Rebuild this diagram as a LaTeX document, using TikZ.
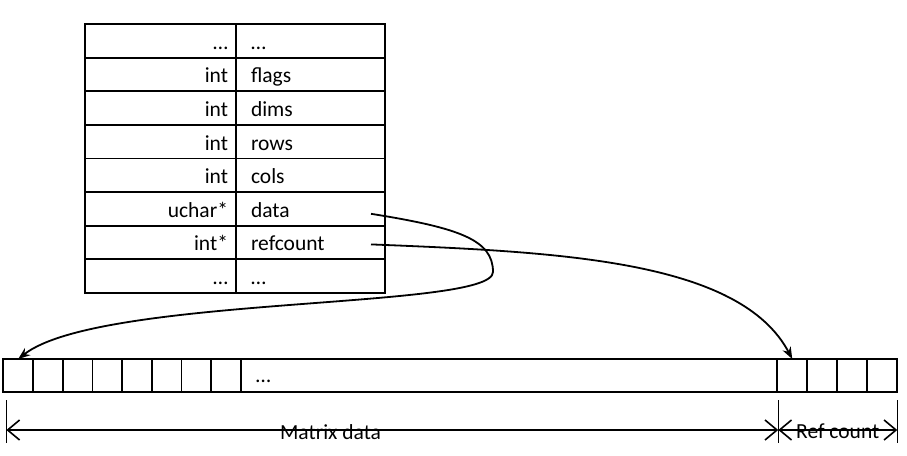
\documentclass[tikz,border=0pt]{standalone}
\usepackage{fontspec}
\setmainfont{Carlito}
\usetikzlibrary{arrows.meta, positioning, calc}

\begin{document}
\begin{tikzpicture}[
    x=1pt, y=-1pt,
    line width=1.8pt,
    font=\fontsize{21.5}{25}\selectfont,
    typecell/.style={rectangle, draw, outer sep=0pt, minimum height=33.6pt, inner ysep=0pt, inner xsep=8pt, text width=135pt, align=right, text height=21pt, text depth=4pt},
    fieldcell/.style={rectangle, draw, outer sep=0pt, minimum height=33.6pt, inner ysep=0pt, inner xsep=15pt, text width=119pt, align=left, text height=21pt, text depth=4pt},
    memcell/.style={rectangle, draw, outer sep=0pt, minimum width=29.7pt, minimum height=33pt, inner sep=0pt},
    refcell/.style={memcell, minimum width=30pt},
    dimtick/.style={line width=1.4pt},
    dimarrow/.style={{Straight Barb[length=12pt,width=20pt]}-{Straight Barb[length=12pt,width=20pt]}, line width=1.6pt},
    pointer/.style={-{Stealth[length=12pt,width=9pt]}, line width=1.8pt}
]
\useasboundingbox[fill=white] (0,0) rectangle (907,455);

% Mat header
\node[typecell] (t1) at (160.5,40.8) {\dots};
\node[fieldcell, right=0pt of t1] (f1) {\dots};
\node[typecell, below=0pt of t1] (t2) {int};
\node[fieldcell, right=0pt of t2] (f2) {flags};
\node[typecell, below=0pt of t2] (t3) {int};
\node[fieldcell, right=0pt of t3] (f3) {dims};
\node[typecell, below=0pt of t3] (t4) {int};
\node[fieldcell, right=0pt of t4] (f4) {rows};
\node[typecell, below=0pt of t4] (t5) {int};
\node[fieldcell, right=0pt of t5] (f5) {cols};
\node[typecell, below=0pt of t5] (t6) {uchar*};
\node[fieldcell, right=0pt of t6] (f6) {data};
\node[typecell, below=0pt of t6] (t7) {int*};
\node[fieldcell, right=0pt of t7] (f7) {refcount};
\node[typecell, below=0pt of t7] (t8) {\dots};
\node[fieldcell, right=0pt of t8] (f8) {\dots};

% Memory block
\node[memcell] (c1) at (18.2,375.5) {};
\node[memcell, right=0pt of c1] (c2) {};
\node[memcell, right=0pt of c2] (c3) {};
\node[memcell, right=0pt of c3] (c4) {};
\node[memcell, right=0pt of c4] (c5) {};
\node[memcell, right=0pt of c5] (c6) {};
\node[memcell, right=0pt of c6] (c7) {};
\node[memcell, right=0pt of c7] (c8) {};
\node[memcell, right=0pt of c8, minimum width=536.3pt] (bigcell) {};
\node[anchor=west, inner sep=0pt] (gap) at ($(bigcell.west)+(14,6)$) {\dots};
\node[refcell, right=0pt of bigcell] (r1) {};
\node[refcell, right=0pt of r1] (r2) {};
\node[refcell, right=0pt of r2] (r3) {};
\node[refcell, right=0pt of r3] (r4) {};

% Dimensions
\coordinate (mL) at ($(c1.south west)+(3,38)$);
\coordinate (mR) at ($(r1.south west)+(1,38)$);
\coordinate (rR) at ($(r4.south east)+(0,38)$);
\draw[dimtick] ($(c1.south west)+(3,8)$) -- ++(0,43);
\draw[dimtick] ($(r1.south west)+(1,8)$) -- ++(0,43);
\draw[dimtick] ($(r4.south east)+(0,8)$) -- ++(0,43);
\draw[dimarrow] (mL) -- (mR) node[pos=0.42, yshift=-2pt, inner sep=0pt] {Matrix data};
\draw[dimarrow] (mR) -- (rR) node[midway, yshift=-1pt, inner sep=0pt] {Ref count};

% Pointers
\coordinate (dataptr) at ($(f6.east)+(-14,5)$);
\coordinate (refptr) at ($(f7.east)+(-14,2)$);
\coordinate (turn) at (493,272);
\draw[pointer] (dataptr) .. controls (460,228) and (493,240) .. (turn)
    .. controls (493,310) and (100,295) .. (c1.north);
\draw[pointer] (refptr) .. controls (560,252) and (740,260) .. (r1.north);

\end{tikzpicture}
\end{document}
